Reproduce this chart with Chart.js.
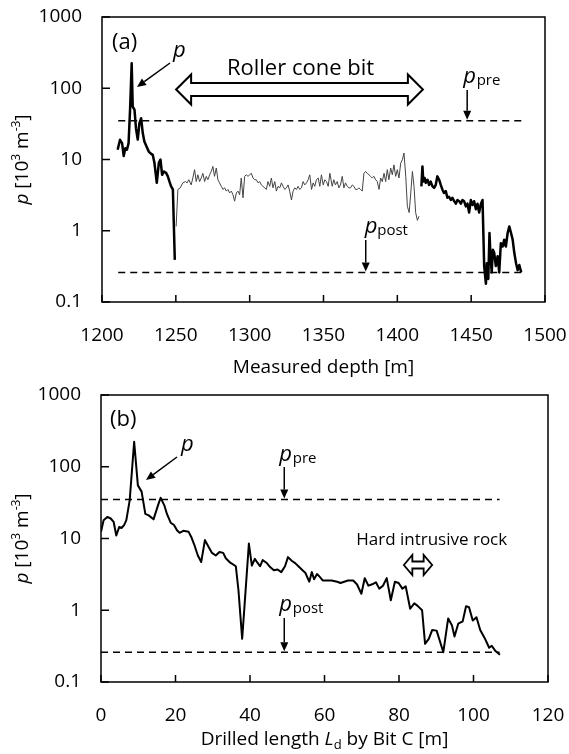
<!DOCTYPE html>
<html>
<head>
<meta charset="utf-8">
<script src="https://cdn.jsdelivr.net/npm/chart.js@4.4.0/dist/chart.umd.min.js"></script>
<style>
  html, body { margin: 0; padding: 0; background: #fff; }
  #wrap { position: relative; width: 569px; height: 754px; }
  .panel { position: absolute; left: 0; width: 569px; height: 377px; }
</style>
</head>
<body>
<div id="wrap">
  <div class="panel" style="top:0"><canvas id="chartA" width="569" height="377"></canvas></div>
  <div class="panel" style="top:377px"><canvas id="chartB" width="569" height="377"></canvas></div>
</div>
<script>
// ---- data ----
// (a) first bit, thick line
const depthA1 = [1210.6, 1212.2, 1213.6, 1214.7, 1215.8, 1216.9, 1218.0, 1219.0, 1220.1, 1220.8,
  1222.0, 1223.0, 1224.2, 1225.3, 1226.5, 1227.6, 1228.7, 1230.3, 1231.7, 1233.3,
  1234.4, 1235.5, 1237.1, 1238.5, 1239.6, 1240.7, 1241.9, 1243.4, 1244.6, 1245.7,
  1246.8, 1248.0, 1249.3];
const pA1 = [13.7, 18.9, 17, 11.2, 14.4, 13.7, 17, 50, 224, 55,
  50, 27.5, 19, 32, 38, 23.5, 17.9, 15, 12.9, 12,
  11.6, 9, 4.7, 9, 10, 6.1, 6.8, 6.5, 5.8, 4.9,
  4.2, 3.8, 0.39];

// (a) roller cone bit, thin line
const depthA2 = [1250.2, 1251.4, 1253.0, 1254.7, 1256.6, 1257.6, 1258.8, 1260.4, 1261.5, 1262.7,
  1263.8, 1264.9, 1266.1, 1267.2, 1268.3, 1269.5, 1270.6, 1271.7, 1272.9, 1274.0,
  1275.1, 1276.2, 1277.4, 1278.5, 1279.6, 1280.8, 1281.9, 1283.0, 1284.2, 1285.3,
  1286.4, 1287.6, 1288.7, 1289.8, 1291.0, 1292.1, 1293.2, 1294.3, 1295.5, 1296.6,
  1297.7, 1298.9, 1300.0, 1301.1, 1302.3, 1303.4, 1304.5, 1305.7, 1306.8, 1307.9,
  1309.0, 1310.2, 1311.3, 1312.4, 1313.6, 1314.7, 1315.8, 1317.0, 1318.1, 1319.2,
  1320.4, 1321.5, 1322.6, 1323.8, 1324.9, 1326.0, 1327.1, 1328.3, 1329.4, 1330.5,
  1331.7, 1332.8, 1333.9, 1335.1, 1336.2, 1337.3, 1338.5, 1339.6, 1340.7, 1341.9,
  1343.0, 1344.1, 1345.2, 1346.4, 1347.5, 1348.6, 1349.8, 1350.9, 1352.0, 1353.2,
  1354.3, 1355.9, 1357.0, 1358.1, 1359.3, 1360.4, 1361.5, 1362.7, 1363.8, 1364.9,
  1366.1, 1367.2, 1368.3, 1369.5, 1370.6, 1371.7, 1372.8, 1374.0, 1375.1, 1376.2,
  1377.4, 1378.5, 1379.6, 1380.8, 1381.9, 1383.0, 1384.2, 1385.3, 1386.4, 1387.6,
  1388.7, 1389.8, 1391.0, 1392.1, 1393.2, 1394.3, 1395.5, 1396.6, 1397.7, 1398.9,
  1400.0, 1401.1, 1402.3, 1403.4, 1404.5, 1405.7, 1406.8, 1408.0, 1409.1, 1410.2,
  1411.3, 1412.4, 1413.6, 1414.7];
const pA2 = [1.15, 3.8, 4.0, 4.7, 4.9, 4.7, 5.2, 4.4, 5.5, 7.2,
  4.9, 6.1, 4.9, 5.5, 6.4, 4.9, 5.8, 5.2, 6.1, 6.8,
  8.0, 5.8, 7.6, 5.2, 4.7, 4.2, 3.8, 4.0, 3.6, 3.8,
  3.4, 3.6, 3.2, 2.6, 3.4, 3.6, 3.2, 5.5, 2.9, 5.8,
  6.1, 5.8, 6.1, 6.4, 5.5, 5.2, 5.2, 4.7, 4.9, 4.4,
  4.2, 4.0, 3.8, 4.9, 4.2, 5.5, 4.0, 4.9, 3.6, 4.2,
  4.0, 4.7, 4.2, 3.8, 4.0, 4.4, 3.6, 2.7, 3.6, 4.0,
  3.8, 4.2, 3.8, 4.0, 4.9, 4.4, 4.7, 5.2, 6.1, 3.8,
  4.7, 4.2, 5.2, 5.5, 4.2, 6.1, 4.4, 5.2, 4.9, 4.2,
  6.4, 4.2, 5.2, 4.4, 4.9, 4.0, 4.4, 5.8, 4.0, 4.7,
  4.2, 4.0, 4.0, 4.4, 4.2, 3.8, 3.8, 4.0, 3.8, 3.6,
  6.4, 6.8, 6.4, 6.1, 5.8, 5.5, 5.8, 5.2, 4.9, 3.8,
  5.5, 4.9, 6.4, 4.9, 7.2, 5.2, 7.6, 6.1, 8.4, 5.8,
  7.2, 5.5, 8.9, 9.9, 12.3, 5.8, 2.2, 1.8, 3.4, 6.8,
  4.2, 1.8, 1.4, 1.6];

// (a) Bit C again, thick line
const depthA3 = [1416.3, 1417.0, 1417.6, 1418.5, 1419.2, 1420.4, 1421.5, 1422.6, 1423.8, 1424.9,
  1426.0, 1427.1, 1428.3, 1429.4, 1430.5, 1431.6, 1432.8, 1433.9, 1435.0, 1436.2,
  1437.3, 1438.5, 1439.6, 1440.7, 1441.9, 1443.0, 1444.1, 1445.2, 1446.4, 1447.5,
  1448.6, 1449.8, 1450.9, 1452.0, 1453.2, 1454.3, 1455.4, 1456.6, 1457.7, 1458.8,
  1460.0, 1460.6, 1461.6, 1462.4, 1463.0, 1463.9, 1464.7, 1465.6, 1466.7, 1467.9,
  1469.0, 1470.1, 1471.3, 1472.4, 1473.5, 1474.7, 1475.8, 1477.0, 1478.1, 1479.2,
  1480.4, 1481.5, 1482.6, 1483.9];
const pA3 = [4.2, 8.0, 4.9, 5.5, 4.7, 5.2, 4.4, 4.9, 4.2, 4.0,
  4.4, 5.8, 5.2, 4.4, 3.8, 3.4, 3.6, 2.9, 3.0, 2.7,
  2.9, 2.6, 2.4, 2.7, 2.6, 2.4, 2.7, 2.6, 2.2, 2.4,
  1.8, 2.7, 2.3, 2.6, 2.0, 2.4, 1.8, 2.4, 2.7, 0.32,
  0.18, 0.35, 0.21, 0.93, 0.49, 0.26, 0.54, 0.49, 0.32, 0.44,
  0.26, 0.67, 0.60, 0.75, 0.60, 0.93, 1.15, 0.93, 0.75, 0.49,
  0.35, 0.28, 0.33, 0.26];

// (b) drilled length by Bit C
const lenB = [0, 0.7, 1.7, 2.6, 3.4, 4.1, 4.9, 5.5, 6.2, 6.8, 7.7, 8.9, 9.9, 10.9, 11.9, 12.8, 14.1, 15.3, 16.0, 17.0,
  17.7, 18.7, 19.6, 20.4, 21.1, 22.1, 23.5, 24.2, 25.0, 26.0, 26.9, 27.9, 28.9, 29.8, 30.8, 31.8, 32.8, 33.5, 34.7, 36.2,
  36.9, 37.9, 38.6, 39.7, 40.5, 41.3, 42.0, 42.7, 43.4, 44.4, 45.4, 46.4, 47.4, 48.4, 49.4, 50.2, 51.2, 52.2, 53.2, 54.1,
  54.9, 55.9, 56.6, 57.2, 58.0, 58.8, 59.5, 60.4, 61.9, 63.4, 64.3, 65.3, 66.3, 67.7, 68.7, 69.9, 70.8, 71.8, 72.8, 73.8,
  74.7, 75.7, 76.7, 77.8, 78.9, 79.9, 80.9, 81.8, 83.0, 84.1, 85.0, 86.2, 87.0, 88.0, 88.9, 90.1, 91.9, 93.2, 94.2, 94.9,
  95.9, 97.1, 98.0, 98.8, 99.8, 100.8, 101.8, 103.2, 104.2, 104.9, 105.9, 107.1];
const pB = [12.4, 18, 20, 19, 17, 11, 14.5, 14, 15.4, 18, 34, 223, 55, 45, 22, 21, 18.5, 29, 37, 29,
  22, 16.6, 15.4, 13, 12, 12.8, 12.4, 10.6, 8.3, 5.8, 4.7, 9.5, 7.6, 6.3, 5.8, 6.5, 6.3, 5.3, 4.6, 4.1,
  1.9, 0.40, 1.3, 8.5, 4.2, 5.2, 4.6, 4.1, 5.0, 4.6, 4.0, 3.6, 3.7, 3.4, 4.1, 5.5, 4.9, 4.5, 4.0, 3.6,
  3.3, 2.5, 3.4, 2.7, 3.2, 2.9, 2.6, 2.6, 2.6, 2.5, 2.4, 2.5, 2.6, 2.6, 2.3, 1.7, 2.8, 2.2, 2.3, 2.45,
  2.0, 2.2, 2.8, 1.38, 2.5, 2.4, 2.0, 2.15, 1.05, 1.25, 1.15, 1.0, 0.34, 0.4, 0.53, 0.52, 0.26, 0.77, 0.62, 0.43,
  0.65, 0.7, 1.14, 1.1, 0.72, 0.8, 0.53, 0.39, 0.30, 0.32, 0.27, 0.24];

// reference levels and extents of the dashed lines
const pPre = 35;
const pPost = 0.26;
const depthRange = [1211, 1485];
const lenRange = [0, 107];

// axis ticks
const xTicksA = [1200, 1250, 1300, 1350, 1400, 1450, 1500];
const xTicksB = [0, 20, 40, 60, 80, 100, 120];
const yTicks = [0.1, 1, 10, 100, 1000];

// ---- helpers ----
const FONT = '"Open Sans", sans-serif';
Chart.defaults.font.family = FONT;
Chart.defaults.color = '#000';

function points(xs, ys) {
  return xs.map((x, i) => ({ x: x, y: ys[i] }));
}

function lineSet(xs, ys, width, color) {
  return { data: points(xs, ys), borderColor: color, borderWidth: width,
    pointRadius: 0, tension: 0, fill: false, borderJoinStyle: 'round' };
}

function dashSet(xs, level) {
  return { data: xs.map(x => ({ x: x, y: level })), borderColor: '#000', borderWidth: 1.5,
    borderDash: [7, 5], pointRadius: 0, fill: false };
}

function setFont(ctx, size, italic) {
  ctx.font = (italic ? 'italic ' : '') + size + 'px ' + FONT;
}

// draw a run of text pieces: {t, s, i, dy}
function richText(ctx, parts, x, y, align) {
  let total = 0;
  parts.forEach(p => { setFont(ctx, p.s, p.i); total += ctx.measureText(p.t).width; });
  let cx = align === 'center' ? x - total / 2 : x;
  ctx.textAlign = 'left';
  ctx.textBaseline = 'alphabetic';
  parts.forEach(p => {
    setFont(ctx, p.s, p.i);
    ctx.fillText(p.t, cx, y + (p.dy || 0));
    cx += ctx.measureText(p.t).width;
  });
}

function arrow(ctx, x1, y1, x2, y2) {
  const ang = Math.atan2(y2 - y1, x2 - x1), len = 9, half = 4;
  const bx = x2 - len * Math.cos(ang), by = y2 - len * Math.sin(ang);
  ctx.lineWidth = 1.5;
  ctx.beginPath(); ctx.moveTo(x1, y1); ctx.lineTo(bx, by); ctx.stroke();
  ctx.beginPath();
  ctx.moveTo(x2, y2);
  ctx.lineTo(bx + half * Math.sin(ang), by - half * Math.cos(ang));
  ctx.lineTo(bx - half * Math.sin(ang), by + half * Math.cos(ang));
  ctx.closePath(); ctx.fill();
}

function hollowArrow(ctx, x1, x2, yc, shaft, head, headLen, lw) {
  ctx.beginPath();
  ctx.moveTo(x1, yc);
  ctx.lineTo(x1 + headLen, yc - head);
  ctx.lineTo(x1 + headLen, yc - shaft);
  ctx.lineTo(x2 - headLen, yc - shaft);
  ctx.lineTo(x2 - headLen, yc - head);
  ctx.lineTo(x2, yc);
  ctx.lineTo(x2 - headLen, yc + head);
  ctx.lineTo(x2 - headLen, yc + shaft);
  ctx.lineTo(x1 + headLen, yc + shaft);
  ctx.lineTo(x1 + headLen, yc + head);
  ctx.closePath();
  ctx.fillStyle = '#fff'; ctx.fill();
  ctx.lineWidth = lw; ctx.strokeStyle = '#000'; ctx.stroke();
  ctx.fillStyle = '#000';
}

// frame, inward ticks and the y title shared by both panels
function drawFrame(chart) {
  const { ctx, chartArea: a, scales } = chart;
  ctx.save();
  ctx.strokeStyle = '#000';
  ctx.lineWidth = 1.5;
  ctx.strokeRect(a.left, a.top, a.right - a.left, a.bottom - a.top);
  ctx.beginPath();
  scales.x.ticks.forEach(t => {
    const px = scales.x.getPixelForValue(t.value);
    ctx.moveTo(px, a.bottom); ctx.lineTo(px, a.bottom - 7);
  });
  scales.y.ticks.forEach(t => {
    const py = scales.y.getPixelForValue(t.value);
    ctx.moveTo(a.left, py); ctx.lineTo(a.left + 8, py);
  });
  ctx.stroke();

  ctx.fillStyle = '#000';
  ctx.translate(28, (a.top + a.bottom) / 2);
  ctx.rotate(-Math.PI / 2);
  richText(ctx, [
    { t: 'p', s: 19, i: true }, { t: ' [10', s: 19 }, { t: '3', s: 12, dy: -8 },
    { t: ' m', s: 19 }, { t: '-3', s: 12, dy: -8 }, { t: ']', s: 19 }
  ], 0, 0, 'center');
  ctx.restore();
}

function drawA(chart) {
  const { ctx, chartArea: a, scales } = chart;
  const xs = v => scales.x.getPixelForValue(v);
  const ys = v => scales.y.getPixelForValue(v);
  ctx.save();
  ctx.fillStyle = '#000'; ctx.strokeStyle = '#000';

  richText(ctx, [{ t: 'Measured depth [m]', s: 19 }], (a.left + a.right) / 2, 373, 'center');

  richText(ctx, [{ t: '(a)', s: 22 }], a.left + 10, 49, 'left');
  richText(ctx, [{ t: 'p', s: 22, i: true }], 173, 57, 'left');
  arrow(ctx, 170, 63, 137, 87);

  richText(ctx, [{ t: 'Roller cone bit', s: 22 }], 300.5, 75, 'center');
  hollowArrow(ctx, xs(1250.2), xs(1417.3), 89.5, 6.5, 15, 15, 2);

  const xp = xs(1447.3);
  richText(ctx, [{ t: 'p', s: 22, i: true }], xp - 4, 83, 'left');
  richText(ctx, [{ t: 'pre', s: 15 }], xp + 9.5, 85, 'left');
  arrow(ctx, xp, 90, xp, ys(pPre) - 1);

  const xq = xs(1378.6);
  richText(ctx, [{ t: 'p', s: 22, i: true }], xq - 1, 233, 'left');
  richText(ctx, [{ t: 'post', s: 15 }], xq + 11.5, 235, 'left');
  arrow(ctx, xq, 240, xq, ys(pPost) - 1);
  ctx.restore();
}

function drawB(chart) {
  const { ctx, chartArea: a, scales } = chart;
  const xs = v => scales.x.getPixelForValue(v);
  const ys = v => scales.y.getPixelForValue(v);
  ctx.save();
  ctx.fillStyle = '#000'; ctx.strokeStyle = '#000';

  richText(ctx, [
    { t: 'Drilled length ', s: 19 }, { t: 'L', s: 19, i: true }, { t: 'd', s: 13, dy: 4 },
    { t: ' by Bit C [m]', s: 19 }
  ], (a.left + a.right) / 2, 368, 'center');

  richText(ctx, [{ t: '(b)', s: 22 }], a.left + 9, 49, 'left');
  richText(ctx, [{ t: 'p', s: 22, i: true }], 181, 74, 'left');
  arrow(ctx, 177, 80, 146, 103);

  const xp = xs(49.2);
  richText(ctx, [{ t: 'p', s: 22, i: true }], xp - 5, 84, 'left');
  richText(ctx, [{ t: 'pre', s: 15 }], xp + 8.5, 86, 'left');
  arrow(ctx, xp, 90, xp, ys(pPre) - 1);
  richText(ctx, [{ t: 'p', s: 22, i: true }], xp - 5, 234, 'left');
  richText(ctx, [{ t: 'post', s: 15 }], xp + 8.5, 236, 'left');
  arrow(ctx, xp, 241, xp, ys(pPost) - 1);

  richText(ctx, [{ t: 'Hard intrusive rock', s: 17 }], 431.7, 168, 'center');
  hollowArrow(ctx, xs(81.3), xs(88.9), 188, 3.5, 10, 8.5, 1.8);
  ctx.restore();
}

// no extra room for overhanging tick labels: the plot box is fixed
function noPad(s) {
  s.paddingTop = 0; s.paddingBottom = 0; s.paddingLeft = 0; s.paddingRight = 0;
}

function makeChart(id, datasets, xr, xTicks, box, extra) {
  const ctx = document.getElementById(id).getContext('2d');
  return new Chart(ctx, {
    type: 'line',
    data: { datasets: datasets },
    options: {
      responsive: false,
      animation: false,
      devicePixelRatio: 1,
      layout: { padding: { left: 0, top: box.top, right: 569 - box.right, bottom: 0 } },
      plugins: { legend: { display: false }, tooltip: { enabled: false } },
      scales: {
        x: {
          type: 'linear', min: xr[0], max: xr[1],
          afterBuildTicks: s => { s.ticks = xTicks.map(v => ({ value: v })); },
          afterFit: s => { s.height = 377 - box.bottom; noPad(s); },
          grid: { display: false, drawTicks: false }, border: { display: false },
          ticks: { font: { size: 19 }, padding: 22, maxRotation: 0, autoSkip: false, callback: v => String(v) }
        },
        y: {
          type: 'logarithmic', min: 0.1, max: 1000,
          afterBuildTicks: s => { s.ticks = yTicks.map(v => ({ value: v })); },
          afterFit: s => { s.width = box.left; noPad(s); },
          grid: { display: false, drawTicks: false }, border: { display: false },
          ticks: { font: { size: 19 }, padding: 20, callback: v => String(v) }
        }
      }
    },
    plugins: [{ id: 'extras_' + id, afterDraw: chart => { drawFrame(chart); extra(chart); } }]
  });
}

makeChart('chartA', [
  lineSet(depthA1, pA1, 2.5, '#000'),
  lineSet(depthA2, pA2, 1, '#444'),
  lineSet(depthA3, pA3, 2.5, '#000'),
  dashSet(depthRange, pPre),
  dashSet(depthRange, pPost)
], [1200, 1500], xTicksA, { left: 102, right: 545, top: 17, bottom: 302 }, drawA);

makeChart('chartB', [
  lineSet(lenB, pB, 2, '#000'),
  dashSet(lenRange, pPre),
  dashSet(lenRange, pPost)
], [0, 120], xTicksB, { left: 101, right: 548, top: 18, bottom: 305 }, drawB);
</script>
</body>
</html>
